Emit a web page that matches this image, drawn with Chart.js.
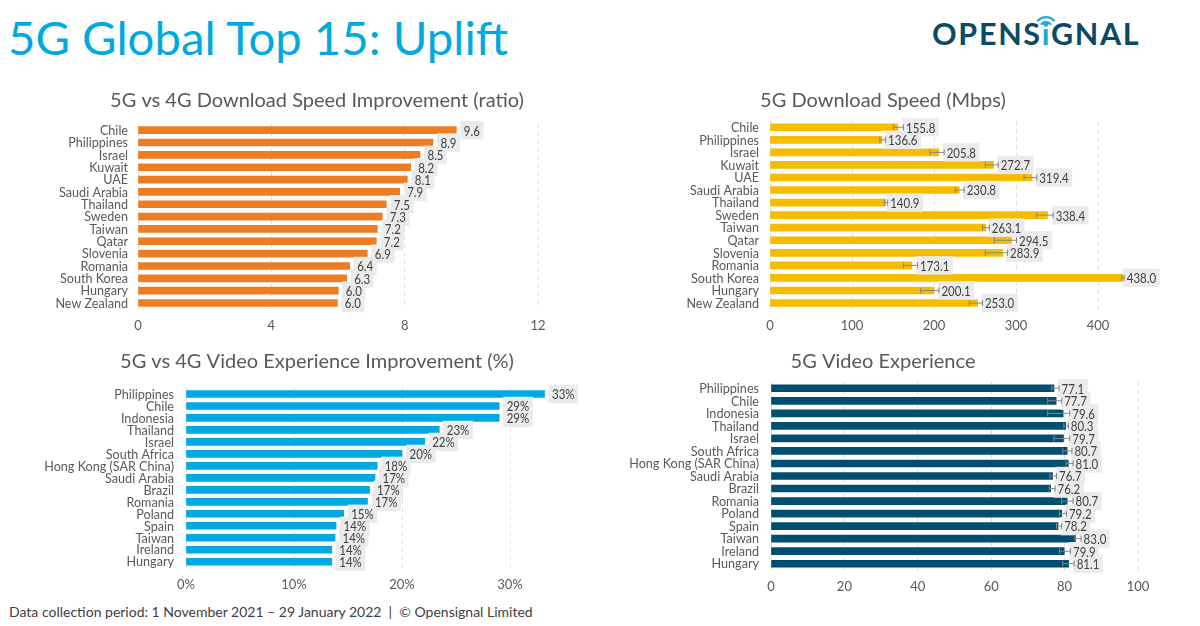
<!DOCTYPE html>
<html>
<head>
<meta charset="utf-8">
<script src="https://cdn.jsdelivr.net/npm/chart.js@4"></script>
<style>
html,body{margin:0;padding:0;background:#fff;width:1200px;height:626px;overflow:hidden;font-family:Lato,sans-serif}
canvas{position:absolute}
.main{position:absolute;left:8px;top:7px;font:400 47.3px/60px Lato;color:#00a9e0;white-space:nowrap}
.foot{position:absolute;left:9px;top:603px;font:400 14px/18px Lato;color:#404040;white-space:nowrap}
.logo{position:absolute;left:932px;top:13px;font:700 30.5px/40px Lato;letter-spacing:1.7px;color:#0b4a64;white-space:nowrap}
.logo span{color:#1ba9dc}
svg{position:absolute;left:1030px;top:10px}
</style>
</head>
<body>
<div class="main">5G Global Top 15: Uplift</div>
<div class="logo">OPENS<span>i</span>GNAL</div>
<svg width="32" height="16" viewBox="0 0 32 16" fill="none" stroke="#1ba9dc" stroke-width="2.2" stroke-linecap="round"><path d="M8 10.5a11 11 0 0 1 16 0"/><path d="M11.5 14a6.2 6.2 0 0 1 9 0"/></svg>
<div class="foot">Data collection period: 1 November 2021 – 29 January 2022&nbsp; |&nbsp; © Opensignal Limited</div>
<canvas id="c1"></canvas><canvas id="c2"></canvas><canvas id="c3"></canvas><canvas id="c4"></canvas>
<script>
// --- Data ---
const ratioCategories = ["Chile","Philippines","Israel","Kuwait","UAE","Saudi Arabia","Thailand","Sweden","Taiwan","Qatar","Slovenia","Romania","South Korea","Hungary","New Zealand"];
const ratioValues = [9.55,8.85,8.46,8.18,8.08,7.85,7.45,7.33,7.18,7.15,6.88,6.35,6.26,6.01,5.98];
const ratioLabels = ["9.6","8.9","8.5","8.2","8.1","7.9","7.5","7.3","7.2","7.2","6.9","6.4","6.3","6.0","6.0"];
const ratioTicks = [0,4,8,12];

const speedCategories = ratioCategories;
const speedValues = [155.8,136.6,205.8,272.7,319.4,230.8,140.9,338.4,263.1,294.5,283.9,173.1,438.0,200.1,253.0];
const speedLow  = [150.4,134,195,262.6,309.8,226,139.5,325.2,259.4,273.6,262.6,162.6,429,183.8,243.1];
const speedHigh = [162.8,141,212.4,278.3,325.4,236.8,143.5,345.4,267.5,300.6,289.6,179.9,432,206,259];
const speedTicks = [0,100,200,300,400];

const videoPctCategories = ["Philippines","Chile","Indonesia","Thailand","Israel","South Africa","Hong Kong (SAR China)","Saudi Arabia","Brazil","Romania","Poland","Spain","Taiwan","Ireland","Hungary"];
const videoPctValues = [33.2,29.0,29.0,23.45,22.1,20.0,17.7,17.5,17.0,16.8,14.6,13.9,13.8,13.5,13.5];
const videoPctLabels = ["33%","29%","29%","23%","22%","20%","18%","17%","17%","17%","15%","14%","14%","14%","14%"];
const videoPctTicks = [0,10,20,30];

const videoCategories = videoPctCategories;
const videoValues = [77.1,77.7,79.6,80.3,79.7,80.7,81.0,76.7,76.2,80.7,79.2,78.2,83.0,79.9,81.1];
const videoLow  = [76.5,75.4,75.4,79.8,77.1,79.5,80.4,76.0,75.8,79.2,78.6,77.8,82.8,78.6,79.5];
const videoHigh = [78.5,79.2,81.4,81.0,81.4,82.0,82.3,77.8,77.4,82.3,80.5,79.2,84.5,81.6,82.6];
const videoTicks = [0,20,40,60,80,100];

// --- Rendering ---
const TEXT = '#595959', FONT = 'Lato';
const NARROW = 0.85;   // the reference's digits are narrower than Lato's
const boxesPlugin = {
  id: 'valueBoxes',
  afterLayout(chart) {
    // centre the title on the whole canvas, not on the padded area
    chart.titleBlock.left = 0;
    chart.titleBlock.right = chart.width;
  },
  afterDatasetsDraw(chart, args, o) {
    const ctx = chart.ctx, x = chart.scales.x, y = chart.scales.y;
    const vals = chart.data.datasets[0].data;
    ctx.save();
    ctx.font = '13.5px ' + FONT;
    const rows = vals.map((v, i) => {
      const end = o.high ? o.high[i] : v;
      const textX = x.getPixelForValue(end) + (o.high ? 2.5 : 7.5);
      const text = o.labels[i];
      return {textX, text, w: ctx.measureText(text).width * NARROW, cy: y.getPixelForValue(i)};
    });
    ctx.fillStyle = '#ebebeb';
    rows.forEach(r => ctx.fillRect(r.textX - 3.5, r.cy - 9.2, r.w + 7, 18.4));
    if (o.high) {
      ctx.strokeStyle = '#868686'; ctx.lineWidth = 1;
      vals.forEach((v, i) => {
        const a = x.getPixelForValue(o.low[i]), b = x.getPixelForValue(o.high[i]), c = y.getPixelForValue(i);
        ctx.beginPath();
        ctx.moveTo(a, c); ctx.lineTo(b, c);
        ctx.moveTo(a, c - 3); ctx.lineTo(a, c + 3);
        ctx.moveTo(b, c - 3); ctx.lineTo(b, c + 3);
        ctx.stroke();
      });
    }
    ctx.fillStyle = '#404040'; ctx.textBaseline = 'middle'; ctx.textAlign = 'left';
    rows.forEach(r => {
      ctx.save();
      ctx.translate(r.textX, r.cy + 1);
      ctx.scale(NARROW, 1);
      ctx.fillText(r.text, 0, 0);
      ctx.restore();
    });
    ctx.restore();
  }
};

function makeChart(cfg) {
  const el = document.getElementById(cfg.id);
  const w = 634, top = cfg.top, left = cfg.left, h = cfg.height;
  el.width = w; el.height = h;
  el.style.left = left + 'px'; el.style.top = top + 'px';
  el.style.width = w + 'px'; el.style.height = h + 'px';
  new Chart(el, {
    type: 'bar',
    data: {labels: cfg.categories, datasets: [{data: cfg.values, backgroundColor: cfg.color, barThickness: 7, borderWidth: 0}]},
    plugins: [boxesPlugin],
    options: {
      indexAxis: 'y', responsive: false, animation: false, devicePixelRatio: 1,
      layout: {padding: {left: 0, top: 0, bottom: 0, right: left + w - cfg.plotRight}},
      scales: {
        x: {
          type: 'linear', min: 0, max: cfg.max,
          afterBuildTicks(s) { s.ticks = cfg.ticks.map(v => ({value: v})); },
          afterFit(s) { s.height = top + h - cfg.plotBottom; },
          border: {display: false, dash: [4, 4]},
          grid: {color: '#dedede', lineWidth: 1, drawTicks: false},
          ticks: {color: TEXT, padding: 9, maxRotation: 0, font: {family: FONT, size: 13},
                  callback: v => v + (cfg.suffix || '')}
        },
        y: {
          type: 'category',
          afterFit(s) { s.width = cfg.plotLeft - left; },
          border: {display: false},
          grid: {display: false, drawTicks: false},
          ticks: {color: TEXT, padding: cfg.labelPad, autoSkip: false, labelOffset: 0.7, font: {family: FONT, size: 12.6}}
        }
      },
      plugins: {
        legend: {display: false}, tooltip: {enabled: false},
        title: {display: true, text: cfg.title, color: TEXT, font: {family: FONT, size: 20, weight: 'normal', lineHeight: 1.2},
                padding: {top: 0, bottom: cfg.plotTop - top - 24}},
        valueBoxes: {labels: cfg.labels, low: cfg.low, high: cfg.high}
      }
    }
  });
}

const fmt1 = a => a.map(v => v.toFixed(1));
makeChart({id:'c1', title:'5G vs 4G Download Speed Improvement (ratio)', left:0, top:89, height:250, plotLeft:138, plotRight:538, plotTop:124, plotBottom:309.2, labelPad:10, max:12, ticks:ratioTicks, categories:ratioCategories, values:ratioValues, labels:ratioLabels, color:'#ed7d22'});
makeChart({id:'c2', title:'5G Download Speed (Mbps)', left:566, top:89, height:250, plotLeft:770, plotRight:1147.2, plotTop:121, plotBottom:309.3, labelPad:11, max:460, ticks:speedTicks, categories:speedCategories, values:speedValues, labels:fmt1(speedValues), low:speedLow, high:speedHigh, color:'#f5bc00'});
makeChart({id:'c3', title:'5G vs 4G Video Experience Improvement (%)', left:0, top:350, height:248, plotLeft:186, plotRight:564, plotTop:388, plotBottom:567.7, labelPad:12, max:35, ticks:videoPctTicks, suffix:'%', categories:videoPctCategories, values:videoPctValues, labels:videoPctLabels, color:'#00a9e0'});
makeChart({id:'c4', title:'5G Video Experience', left:566, top:350, height:248, plotLeft:771, plotRight:1138, plotTop:382, plotBottom:570, labelPad:12, max:100, ticks:videoTicks, categories:videoCategories, values:videoValues, labels:fmt1(videoValues), low:videoLow, high:videoHigh, color:'#004e70'});
</script>
</body>
</html>
